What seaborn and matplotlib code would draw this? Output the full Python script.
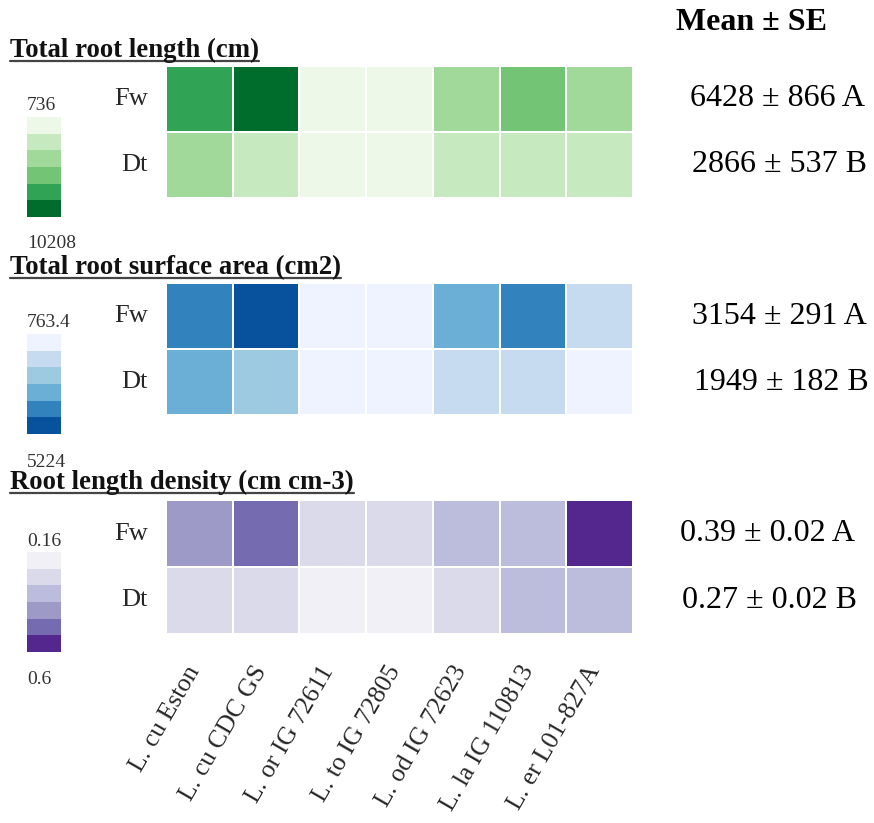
import numpy as np
import pandas as pd
import matplotlib
matplotlib.use("Agg")
import matplotlib.pyplot as plt
from matplotlib.colors import ListedColormap
from matplotlib.lines import Line2D
from matplotlib.transforms import ScaledTranslation
import seaborn as sns

# ---------------- data ----------------
cultivars = ["L. cu Eston", "L. cu CDC GS", "L. or IG 72611", "L. to IG 72805",
             "L. od IG 72623", "L. la IG 110813", "L. er L01-827A"]
treatments = ["Fw", "Dt"]

length_fw = [8000, 10208, 1500, 1700, 4800, 6300, 4700]
length_dt = [4600, 3200, 900, 736, 2900, 3300, 3100]

surface_fw = [4100, 5224, 1100, 1200, 3400, 4200, 1900]
surface_dt = [3300, 2600, 800, 763.4, 1800, 2000, 1300]

density_fw = [0.42, 0.49, 0.27, 0.26, 0.34, 0.35, 0.60]
density_dt = [0.28, 0.29, 0.17, 0.16, 0.28, 0.36, 0.35]

titles = ["Total root length (cm)", "Total root surface area (cm2)",
          "Root length density (cm cm-3)"]
range_labels = [("736", "10208"), ("763.4", "5224"), ("0.16", "0.6")]
mean_se = [("6428 ± 866 A", "2866 ± 537 B"),
           ("3154 ± 291 A", "1949 ± 182 B"),
           ("0.39 ± 0.02 A", "0.27 ± 0.02 B")]

greens = ["#edf8e9", "#c7e9c0", "#a1d99b", "#74c476", "#31a354", "#006d2c"]
blues = ["#eff3ff", "#c6dbef", "#9ecae1", "#6baed6", "#3182bd", "#08519c"]
purples = ["#f2f0f7", "#dadaeb", "#bcbddc", "#9e9ac8", "#756bb1", "#54278f"]

# ---------------- figure ----------------
sns.set_theme(style="white")
plt.rcParams["font.family"] = ["Liberation Serif", "DejaVu Serif"]

W, H = 874, 823
fig = plt.figure(figsize=(W / 100, H / 100), dpi=100)


def fx(x):
    return x / W


def fy(y):
    return 1 - y / H


panels = [
    (length_fw, length_dt, greens, 66, 198, 117, 217, 61, 106, 243),
    (surface_fw, surface_dt, blues, 283, 415, 334, 434, 278, 322, 462),
    (density_fw, density_dt, purples, 500, 634, 552, 652, 493, 542, 680),
]

mean_x = [778, 779, 768]

for i, (fw, dt, cols, y0, y1, cy0, cy1, uline_y, lab_top, lab_bot) in enumerate(panels):
    df = pd.DataFrame([fw, dt], index=treatments, columns=cultivars)
    vmin = min(fw + dt)
    vmax = max(fw + dt)
    cmap = ListedColormap(cols)
    ax = fig.add_axes([fx(166), fy(y1), fx(633) - fx(166), fy(y0) - fy(y1)])
    cax = fig.add_axes([fx(27), fy(cy1), fx(61) - fx(27), fy(cy0) - fy(cy1)])
    sns.heatmap(df, ax=ax, cmap=cmap, vmin=vmin, vmax=vmax, linewidths=1.1,
                linecolor="white", cbar=True, cbar_ax=cax,
                cbar_kws={"drawedges": True}, square=False)
    cb = ax.collections[0].colorbar
    cb.outline.set_visible(False)
    cb.dividers.set_color("white")
    cb.dividers.set_linewidth(1.1)
    cax.invert_yaxis()
    cax.set_yticks([])
    cax.tick_params(left=False, right=False, labelleft=False, labelright=False)

    ax.set_xlabel("")
    ax.set_ylabel("")
    ax.tick_params(axis="both", length=0)
    ax.set_yticklabels(treatments, rotation=0, fontsize=19)
    ax.tick_params(axis="y", pad=13)
    if i < 2:
        ax.set_xticks([])
    else:
        ax.tick_params(axis="x", pad=20)
        labels = ax.set_xticklabels(cultivars, rotation=60, ha="right", va="top",
                                    rotation_mode="anchor", fontsize=18.5)
        off = ScaledTranslation(-0.14, 0.0, fig.dpi_scale_trans)
        for lab in labels:
            lab.set_transform(lab.get_transform() + off)

    # colour range labels
    fig.text(fx(27), fy(lab_top), range_labels[i][0], ha="left",
             va="center", fontsize=14, color="#333333")
    fig.text(fx(27), fy(lab_bot), range_labels[i][1], ha="left",
             va="center", fontsize=14, color="#333333")

    # underlined bold title
    t = fig.text(fx(10), fy(uline_y - 4), titles[i], ha="left",
                 va="baseline", fontsize=19.3, fontweight="bold", color="#111111")
    fig.canvas.draw()
    bb = t.get_window_extent().transformed(fig.transFigure.inverted())
    fig.add_artist(Line2D([bb.x0, bb.x1], [fy(uline_y), fy(uline_y)],
                          transform=fig.transFigure, color="#444444", lw=1.6))

    # mean +/- SE
    row_h = (y1 - y0) / 2
    fig.text(fx(mean_x[i]), fy(y0 + row_h / 2), mean_se[i][0], ha="center",
             va="center", fontsize=23, color="black")
    fig.text(fx(mean_x[i] + 2), fy(y0 + 1.5 * row_h), mean_se[i][1],
             ha="center", va="center", fontsize=23, color="black")

fig.text(fx(752), fy(22), "Mean ± SE", ha="center", va="center",
         fontsize=23, fontweight="bold", color="black")

fig.savefig("out.png", dpi=100)
